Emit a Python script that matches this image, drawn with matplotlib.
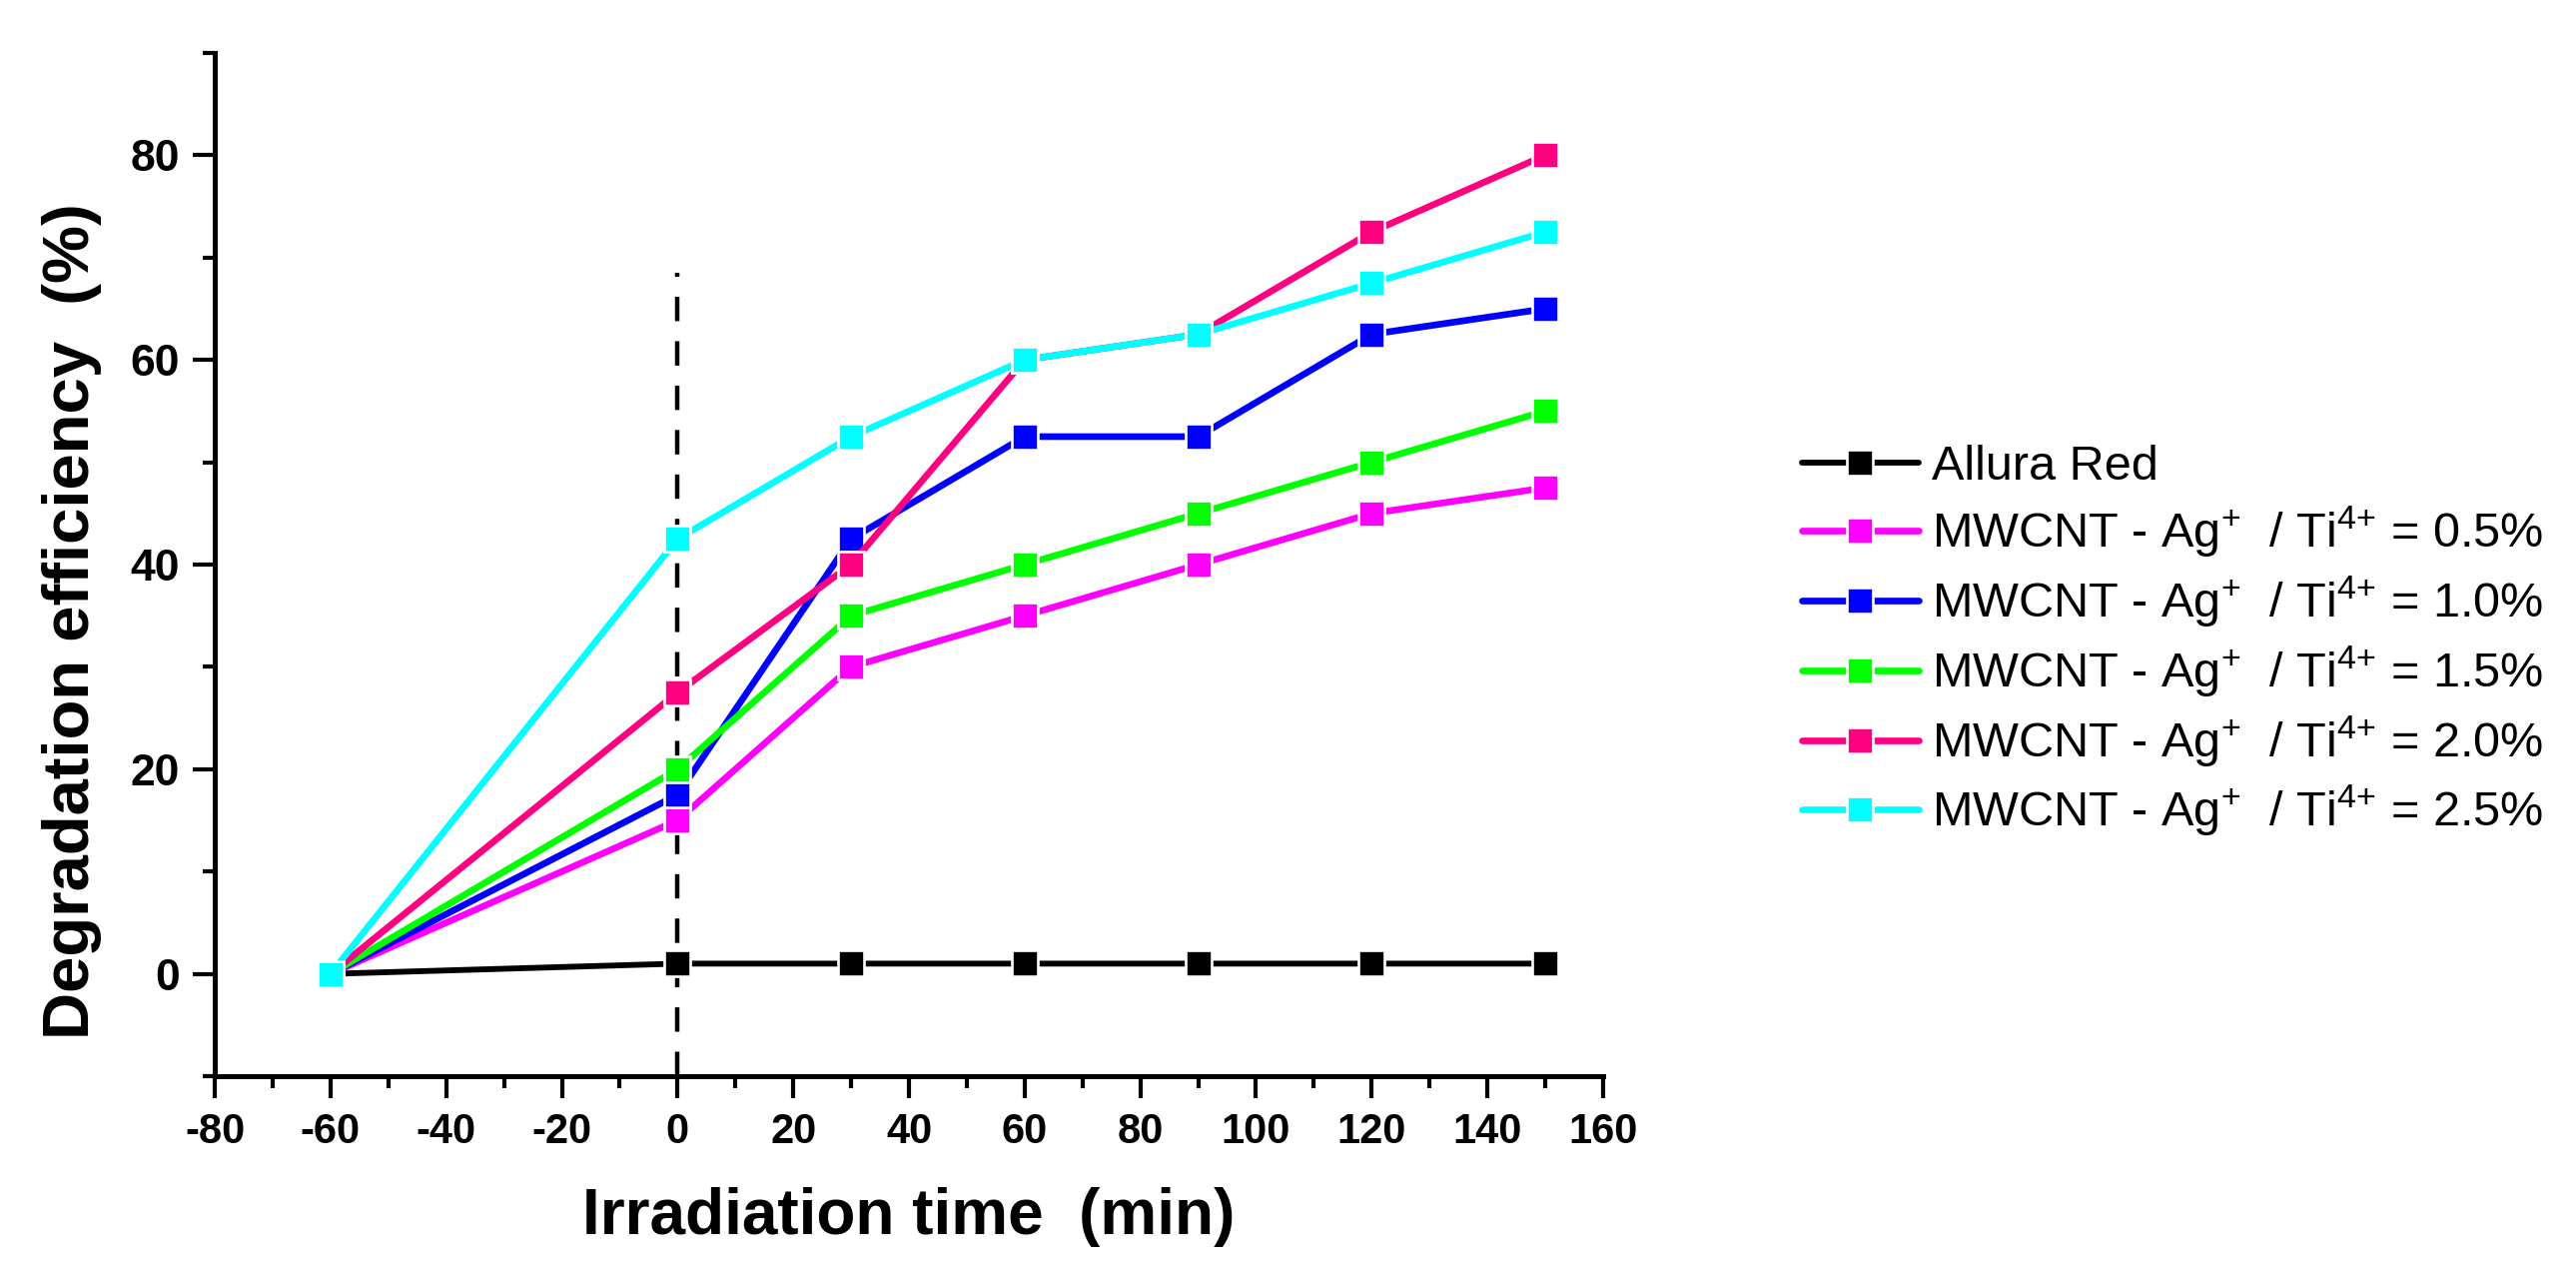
import matplotlib
matplotlib.use("Agg")
import matplotlib.pyplot as plt
from matplotlib.ticker import MultipleLocator

plt.rcParams['font.family'] = ['Liberation Sans', 'DejaVu Sans']
plt.rcParams['axes.unicode_minus'] = False
plt.rcParams['mathtext.fontset'] = 'custom'
plt.rcParams['mathtext.rm'] = 'Liberation Sans'
plt.rcParams['mathtext.it'] = 'Liberation Sans:italic'
plt.rcParams['mathtext.bf'] = 'Liberation Sans:bold'

# irradiation time (min), -60 = start of dark adsorption
time_min = [-60, 0, 30, 60, 90, 120, 150]

allura_red = [0, 1, 1, 1, 1, 1, 1]
ratio_05 = [0, 15, 30, 35, 40, 45, 47.5]
ratio_10 = [0, 17.5, 42.5, 52.5, 52.5, 62.5, 65]
ratio_15 = [0, 20, 35, 40, 45, 50, 55]
ratio_20 = [0, 27.5, 40, 60, 62.5, 72.5, 80]
ratio_25 = [0, 42.5, 52.5, 60, 62.5, 67.5, 72.5]

ratios = ["0.5", "1.0", "1.5", "2.0", "2.5"]
series_labels = ["Allura Red"] + [
    r"MWCNT - Ag$^{+}$  / Ti$^{4{+}}$ = " + r + "%" for r in ratios
]
series_values = [allura_red, ratio_05, ratio_10, ratio_15, ratio_20, ratio_25]
series_colors = ['#000000', '#FF00FF', '#0000FF', '#00FF00', '#FF0080', '#00FFFF']

# light switched on at t = 0
light_on_time = 0
light_line_top = 68.5

fig = plt.figure(figsize=(25.79, 12.88), dpi=100)
ax = fig.add_axes([0.0834, 0.1638, 0.5389, 0.7951])

# dashed line marking the light on
ax.vlines(light_on_time, -10, light_line_top, colors='black', linewidth=3.2,
          linestyles=(0, (5.5, 4.5)), zorder=1)

for vals, lab, col in zip(series_values, series_labels, series_colors):
    lw = 4.2 if col == '#000000' else 4.8
    ax.plot(time_min, vals, color=col, linewidth=lw, marker='s', markersize=18.5,
            markerfacecolor=col, markeredgecolor='white', markeredgewidth=1.9,
            solid_capstyle='round', label=lab, clip_on=False, zorder=2)

ax.set_xlim(-80, 160)
ax.set_ylim(-10, 90)
ax.xaxis.set_major_locator(MultipleLocator(20))
ax.xaxis.set_minor_locator(MultipleLocator(10))
ax.set_yticks([0, 20, 40, 60, 80])
ax.set_yticks([-10, 10, 30, 50, 70, 90], minor=True)

for side in ['top', 'right']:
    ax.spines[side].set_visible(False)
for side in ['left', 'bottom']:
    ax.spines[side].set_linewidth(3.6)

ax.tick_params(which='major', direction='out', length=16, width=3)
ax.tick_params(which='minor', direction='out', length=8.5, width=3)
ax.tick_params(axis='y', pad=9)
ax.tick_params(axis='x', pad=10)

for t in ax.get_yticklabels():
    t.set_fontweight('bold')
    t.set_fontsize(32)
for t in ax.get_xticklabels():
    t.set_fontweight('bold')
    t.set_fontsize(30)

ax.set_xlabel("Irradiation time  (min)", fontsize=46, fontweight='bold')
ax.set_ylabel("Degradation efficiency  (%)", fontsize=47, fontweight='bold')
ax.xaxis.set_label_coords(0.5, -0.108)
ax.yaxis.set_label_coords(-0.0813, 0.445)

ax.legend(loc='upper left', bbox_to_anchor=(0.6995, 0.6545), bbox_transform=fig.transFigure,
          frameon=False, fontsize=35, handlelength=2.4, handletextpad=0.27,
          labelspacing=0.3, borderpad=0, borderaxespad=0)

fig.savefig("out.png", dpi=100)
